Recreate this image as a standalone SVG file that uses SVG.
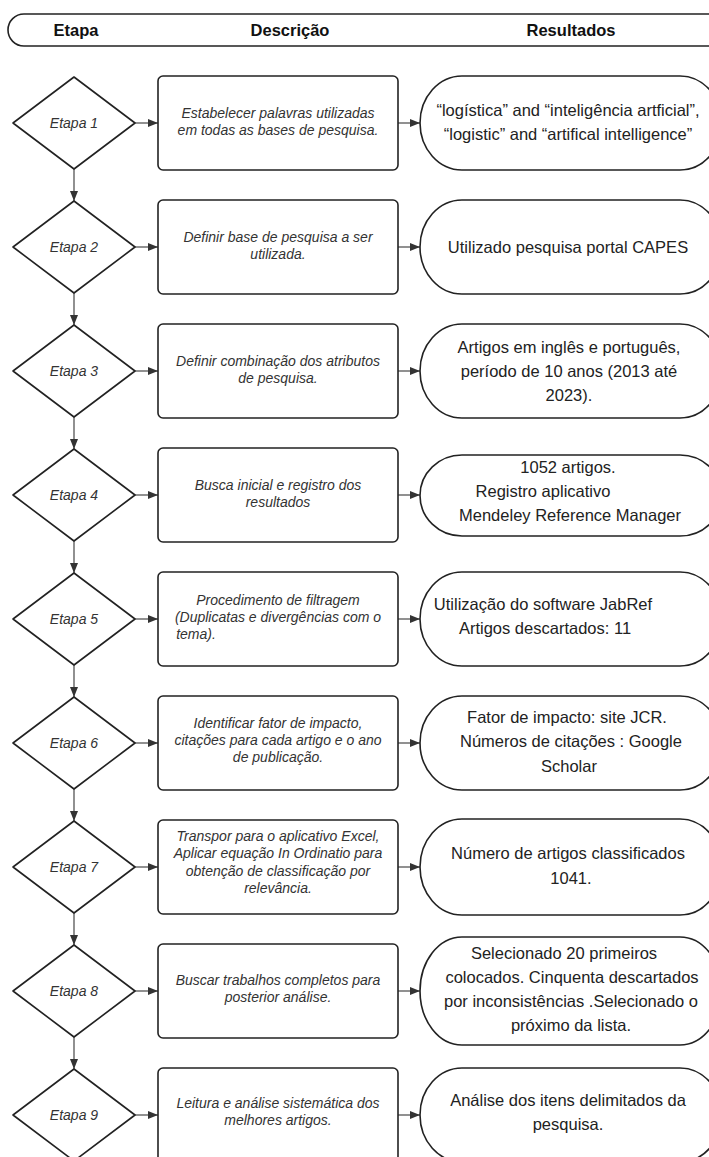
<svg xmlns="http://www.w3.org/2000/svg" width="709" height="1157" viewBox="0 0 709 1157">
<defs>
<marker id="ah" markerUnits="userSpaceOnUse" markerWidth="11" markerHeight="9" refX="10" refY="4" orient="auto">
<path d="M0,0 L10,4 L0,8 Z" fill="#333"/>
</marker>
<style>
.sh{fill:#fff;stroke:#222;stroke-width:1.6;stroke-linejoin:round}
.con{stroke:#555;stroke-width:1.3;fill:none}
.hd{font-family:"Liberation Sans",Arial,sans-serif;font-weight:bold;font-size:16.5px;fill:#111;text-anchor:middle}
.et{font-family:"Liberation Sans",Arial,sans-serif;font-style:italic;font-size:14px;fill:#333;text-anchor:middle}
.ds{font-family:"Liberation Sans",Arial,sans-serif;font-style:italic;font-size:14px;fill:#333;text-anchor:middle}
.rs{font-family:"Liberation Sans",Arial,sans-serif;font-size:16.5px;fill:#222;text-anchor:middle}
</style>
</defs>
<rect width="709" height="1157" fill="#fff"/>
<g id="header">
<path class="sh" d="M24,14 H730 V46 H24 A16,16 0 0 1 24,14 Z"/>
<text class="hd" x="76" y="36">Etapa</text>
<text class="hd" x="290" y="36">Descrição</text>
<text class="hd" x="571" y="36">Resultados</text>
</g>
<g id="connectors">
<line class="con" x1="135" y1="123" x2="158" y2="123" marker-end="url(#ah)"/>
<line class="con" x1="397" y1="123" x2="420" y2="123" marker-end="url(#ah)"/>
<line class="con" x1="135" y1="247" x2="158" y2="247" marker-end="url(#ah)"/>
<line class="con" x1="397" y1="247" x2="420" y2="247" marker-end="url(#ah)"/>
<line class="con" x1="135" y1="371" x2="158" y2="371" marker-end="url(#ah)"/>
<line class="con" x1="397" y1="371" x2="420" y2="371" marker-end="url(#ah)"/>
<line class="con" x1="135" y1="495" x2="158" y2="495" marker-end="url(#ah)"/>
<line class="con" x1="397" y1="495" x2="420" y2="495" marker-end="url(#ah)"/>
<line class="con" x1="135" y1="619" x2="158" y2="619" marker-end="url(#ah)"/>
<line class="con" x1="397" y1="619" x2="420" y2="619" marker-end="url(#ah)"/>
<line class="con" x1="135" y1="743" x2="158" y2="743" marker-end="url(#ah)"/>
<line class="con" x1="397" y1="743" x2="420" y2="743" marker-end="url(#ah)"/>
<line class="con" x1="135" y1="867" x2="158" y2="867" marker-end="url(#ah)"/>
<line class="con" x1="397" y1="867" x2="420" y2="867" marker-end="url(#ah)"/>
<line class="con" x1="135" y1="991" x2="158" y2="991" marker-end="url(#ah)"/>
<line class="con" x1="397" y1="991" x2="420" y2="991" marker-end="url(#ah)"/>
<line class="con" x1="135" y1="1115" x2="158" y2="1115" marker-end="url(#ah)"/>
<line class="con" x1="397" y1="1115" x2="420" y2="1115" marker-end="url(#ah)"/>
<line class="con" x1="74" y1="169" x2="74" y2="201" marker-end="url(#ah)"/>
<line class="con" x1="74" y1="293" x2="74" y2="325" marker-end="url(#ah)"/>
<line class="con" x1="74" y1="417" x2="74" y2="449" marker-end="url(#ah)"/>
<line class="con" x1="74" y1="541" x2="74" y2="573" marker-end="url(#ah)"/>
<line class="con" x1="74" y1="665" x2="74" y2="697" marker-end="url(#ah)"/>
<line class="con" x1="74" y1="789" x2="74" y2="821" marker-end="url(#ah)" stroke="#333"/>
<line class="con" x1="74" y1="913" x2="74" y2="945" marker-end="url(#ah)" stroke="#333"/>
<line class="con" x1="74" y1="1037" x2="74" y2="1069" marker-end="url(#ah)" stroke="#333"/>
</g>
<g id="etapa1">
<path class="sh" d="M74,77 L135,123 L74,169 L13,123 Z"/>
<text class="et" x="74" y="128">Etapa 1</text>
</g>
<g id="desc1">
<rect class="sh" x="158" y="76" width="240" height="94" rx="5"/>
<text class="ds" x="278" y="118">Estabelecer palavras utilizadas</text>
<text class="ds" x="278" y="135">em todas as bases de pesquisa.</text>
</g>
<g id="res1">
<path class="sh" d="M462,76 H680 A42,47 0 0 1 680,170 H462 A42,47 0 0 1 462,76 Z"/>
<text class="rs" x="568" y="116">“logística” and “inteligência artficial”,</text>
<text class="rs" x="568" y="140">“logistic” and “artifical intelligence”</text>
</g>
<g id="etapa2">
<path class="sh" d="M74,201 L135,247 L74,293 L13,247 Z"/>
<text class="et" x="74" y="252">Etapa 2</text>
</g>
<g id="desc2">
<rect class="sh" x="158" y="200" width="240" height="94" rx="5"/>
<text class="ds" x="278" y="242">Definir base de pesquisa a ser</text>
<text class="ds" x="278" y="259">utilizada.</text>
</g>
<g id="res2">
<path class="sh" d="M462,200 H680 A42,47 0 0 1 680,294 H462 A42,47 0 0 1 462,200 Z"/>
<text class="rs" x="568" y="253">Utilizado pesquisa portal CAPES</text>
</g>
<g id="etapa3">
<path class="sh" d="M74,325 L135,371 L74,417 L13,371 Z"/>
<text class="et" x="74" y="376">Etapa 3</text>
</g>
<g id="desc3">
<rect class="sh" x="158" y="324" width="240" height="94" rx="5"/>
<text class="ds" x="278" y="366">Definir combinação dos atributos</text>
<text class="ds" x="278" y="383">de pesquisa.</text>
</g>
<g id="res3">
<path class="sh" d="M462,324 H680 A42,47 0 0 1 680,418 H462 A42,47 0 0 1 462,324 Z"/>
<text class="rs" x="569" y="353">Artigos em inglês e português,</text>
<text class="rs" x="569" y="377">período de 10 anos (2013 até</text>
<text class="rs" x="569" y="401">2023).</text>
</g>
<g id="etapa4">
<path class="sh" d="M74,449 L135,495 L74,541 L13,495 Z"/>
<text class="et" x="74" y="500">Etapa 4</text>
</g>
<g id="desc4">
<rect class="sh" x="158" y="448" width="240" height="94" rx="5"/>
<text class="ds" x="278" y="490">Busca inicial e registro dos</text>
<text class="ds" x="278" y="507">resultados</text>
</g>
<g id="res4">
<path class="sh" d="M462,455 H680 A42,40.5 0 0 1 680,536 H462 A42,40.5 0 0 1 462,455 Z"/>
<text class="rs" x="568" y="473">1052 artigos.</text>
<text class="rs" x="543" y="497">Registro aplicativo</text>
<text class="rs" x="570" y="521">Mendeley Reference Manager</text>
</g>
<g id="etapa5">
<path class="sh" d="M74,573 L135,619 L74,665 L13,619 Z"/>
<text class="et" x="74" y="624">Etapa 5</text>
</g>
<g id="desc5">
<rect class="sh" x="158" y="572" width="240" height="94" rx="5"/>
<text class="ds" x="278" y="605">Procedimento de filtragem</text>
<text class="ds" x="278" y="622">(Duplicatas e divergências com o</text>
<text class="ds" x="196" y="639" text-anchor="start">tema).</text>
</g>
<g id="res5">
<path class="sh" d="M462,572 H680 A42,47 0 0 1 680,666 H462 A42,47 0 0 1 462,572 Z"/>
<text class="rs" x="543" y="610">Utilização do software JabRef</text>
<text class="rs" x="545" y="634">Artigos descartados: 11</text>
</g>
<g id="etapa6">
<path class="sh" d="M74,697 L135,743 L74,789 L13,743 Z"/>
<text class="et" x="74" y="748">Etapa 6</text>
</g>
<g id="desc6">
<rect class="sh" x="158" y="696" width="240" height="94" rx="5"/>
<text class="ds" x="278" y="728">Identificar fator de impacto,</text>
<text class="ds" x="278" y="745">citações para cada artigo e o ano</text>
<text class="ds" x="278" y="762">de publicação.</text>
</g>
<g id="res6">
<path class="sh" d="M462,696 H680 A42,47 0 0 1 680,790 H462 A42,47 0 0 1 462,696 Z"/>
<text class="rs" x="567" y="723">Fator de impacto: site JCR.</text>
<text class="rs" x="571" y="747">Números de citações : Google</text>
<text class="rs" x="569" y="772">Scholar</text>
</g>
<g id="etapa7">
<path class="sh" d="M74,821 L135,867 L74,913 L13,867 Z"/>
<text class="et" x="74" y="872">Etapa 7</text>
</g>
<g id="desc7">
<rect class="sh" x="158" y="820" width="240" height="94" rx="5"/>
<text class="ds" x="278" y="841">Transpor para o aplicativo Excel,</text>
<text class="ds" x="278" y="858">Aplicar equação In Ordinatio para</text>
<text class="ds" x="278" y="876">obtenção de classificação por</text>
<text class="ds" x="278" y="893">relevância.</text>
</g>
<g id="res7">
<path class="sh" d="M462,819 H680 A42,48 0 0 1 680,915 H462 A42,48 0 0 1 462,819 Z"/>
<text class="rs" x="568" y="859">Número de artigos classificados</text>
<text class="rs" x="571" y="884">1041.</text>
</g>
<g id="etapa8">
<path class="sh" d="M74,945 L135,991 L74,1037 L13,991 Z"/>
<text class="et" x="74" y="996">Etapa 8</text>
</g>
<g id="desc8">
<rect class="sh" x="158" y="944" width="240" height="94" rx="5"/>
<text class="ds" x="278" y="985">Buscar trabalhos completos para</text>
<text class="ds" x="278" y="1002">posterior análise.</text>
</g>
<g id="res8">
<path class="sh" d="M462,937 H680 A42,54 0 0 1 680,1045 H462 A42,54 0 0 1 462,937 Z"/>
<text class="rs" x="564" y="959">Selecionado 20 primeiros</text>
<text class="rs" x="572" y="983">colocados. Cinquenta descartados</text>
<text class="rs" x="571" y="1007">por inconsistências .Selecionado o</text>
<text class="rs" x="571" y="1031">próximo da lista.</text>
</g>
<g id="etapa9">
<path class="sh" d="M74,1069 L135,1115 L74,1161 L13,1115 Z"/>
<text class="et" x="74" y="1120">Etapa 9</text>
</g>
<g id="desc9">
<rect class="sh" x="158" y="1068" width="240" height="94" rx="5"/>
<text class="ds" x="278" y="1108">Leitura e análise sistemática dos</text>
<text class="ds" x="278" y="1125">melhores artigos.</text>
</g>
<g id="res9">
<path class="sh" d="M462,1068 H680 A42,47 0 0 1 680,1162 H462 A42,47 0 0 1 462,1068 Z"/>
<text class="rs" x="568" y="1106">Análise dos itens delimitados da</text>
<text class="rs" x="568" y="1130">pesquisa.</text>
</g>
</svg>
